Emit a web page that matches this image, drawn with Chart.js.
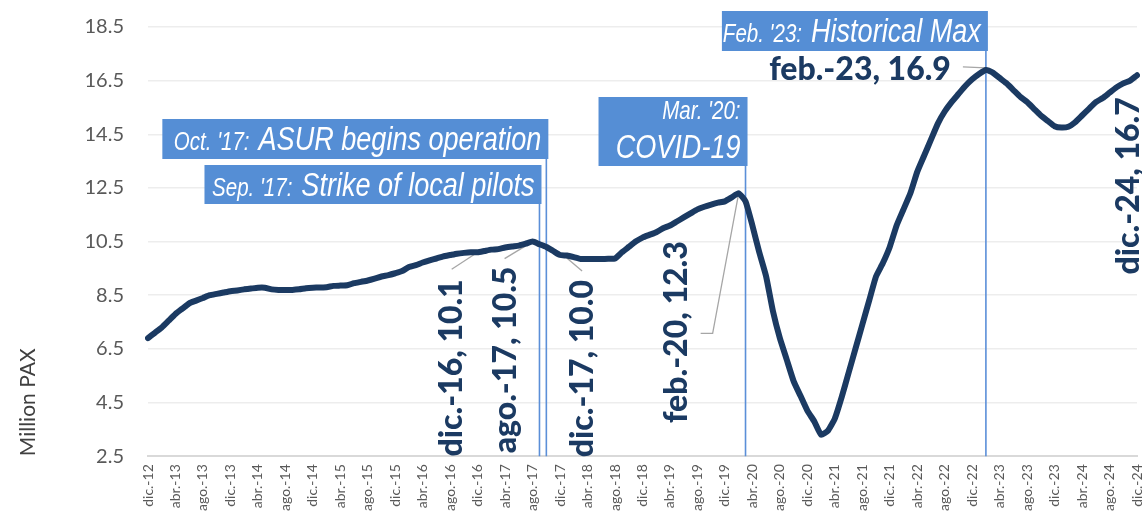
<!DOCTYPE html>
<html>
<head>
<meta charset="utf-8">
<script src="https://cdn.jsdelivr.net/npm/chart.js@4.4.0/dist/chart.umd.min.js"></script>
<style>
  html, body { margin: 0; padding: 0; background: #fff; }
  #wrap { width: 1142px; height: 520px; }
</style>
</head>
<body>
<div id="wrap"><canvas id="PaxChart"></canvas></div>
<script>
// month names used for the category labels (dic.-12 ... dic.-24)
var monthNames = ['ene.', 'feb.', 'mar.', 'abr.', 'may.', 'jun.', 'jul.', 'ago.', 'sep.', 'oct.', 'nov.', 'dic.'];
var years = ['13', '14', '15', '16', '17', '18', '19', '20', '21', '22', '23', '24'];

var months = ['dic.-12'];
years.forEach(function (y) {
    monthNames.forEach(function (m) { months.push(m + '-' + y); });
});

// passengers, million (12-month rolling)
var paxMillions = [
    6.9,
    7.1, 7.3, 7.55, 7.8, 8.0, 8.2, 8.3, 8.4, 8.5, 8.55, 8.6, 8.65,          // 2013
    8.68, 8.72, 8.75, 8.78, 8.78, 8.72, 8.7, 8.7, 8.7, 8.72, 8.76, 8.78,    // 2014
    8.79, 8.8, 8.85, 8.86, 8.87, 8.95, 9.0, 9.05, 9.12, 9.2, 9.25, 9.32,    // 2015
    9.4, 9.55, 9.62, 9.72, 9.8, 9.87, 9.95, 10.0, 10.05, 10.08, 10.1, 10.1, // 2016
    10.15, 10.2, 10.22, 10.28, 10.32, 10.35, 10.42, 10.5, 10.4, 10.3, 10.15, 10.0, // 2017
    9.98, 9.92, 9.85, 9.85, 9.85, 9.85, 9.86, 9.87, 10.1, 10.3, 10.5, 10.65, // 2018
    10.75, 10.85, 11.0, 11.1, 11.25, 11.4, 11.55, 11.7, 11.8, 11.88, 11.95, 12.0, // 2019
    12.15, 12.3, 12.0, 11.1, 10.1, 9.2, 7.9, 6.9, 6.1, 5.3, 4.75, 4.2,      // 2020
    3.8, 3.3, 3.45, 3.9, 4.7, 5.6, 6.5, 7.4, 8.3, 9.2, 9.7, 10.3,           // 2021
    11.1, 11.7, 12.3, 13.1, 13.7, 14.3, 14.9, 15.35, 15.7, 16.0, 16.3, 16.55, // 2022
    16.75, 16.9, 16.8, 16.6, 16.4, 16.15, 15.9, 15.7, 15.45, 15.2, 15.0, 14.8, // 2023
    14.75, 14.78, 14.95, 15.2, 15.45, 15.7, 15.85, 16.05, 16.25, 16.4, 16.5, 16.7  // 2024
];

var yTicks = [2.5, 4.5, 6.5, 8.5, 10.5, 12.5, 14.5, 16.5, 18.5];

// event markers: month, small prefix, big text
var eventMonths = ['oct.-17', 'sep.-17', 'mar.-20', 'feb.-23'];
var eventPrefix = ["Oct. '17:", "Sep. '17:", "Mar. '20:", "Feb. '23:"];
var eventText = ['ASUR begins operation', 'Strike of local pilots', 'COVID-19', 'Historical Max'];

// labelled points
var labelMonths = ['dic.-16', 'ago.-17', 'dic.-17', 'feb.-20', 'feb.-23', 'dic.-24'];

var navy = '#1b3a62';
var boxBlue = '#558ed5';
var bigFont = 'italic 33px "Liberation Sans", Arial, sans-serif';
var smallFont = 'italic 25px "Liberation Sans", Arial, sans-serif';
var narrow = 0.82; // squeeze to look like a narrow face
var labelFont = '900 32px Lato, "Open Sans", sans-serif';

// box layout for each event (pixels), same order as eventMonths
var boxLayout = [
    { width: 386, top: 119, height: 40, twoLines: false },
    { width: 337, top: 165, height: 39, twoLines: false },
    { width: 149, top: 97, height: 69, twoLines: true },
    { width: 266, top: 11, height: 40, twoLines: false }
];

// label layout relative to its point (pixels), same order as labelMonths
var labelLayout = [
    { rot: true, dx: -26, dy: 27, leader: [[-26, 17], [0, 0]] },
    { rot: true, dx: -27, dy: 25, leader: [[-28, 17], [0, 0]] },
    { rot: true, dx: 23, dy: 25, leader: [[22, 16], [2, -1]] },
    { rot: true, dx: -62, dy: 48, leader: [[-38, 140], [-26, 140], [0, 0]] },
    { rot: false, dx: -35, dy: 0, leader: [[-23, -3], [0, -2]] },
    { rot: true, dx: -8, dy: 22 }
];

function narrowText(ctx, txt, xRight, y) {
    ctx.save();
    ctx.translate(xRight, y);
    ctx.scale(narrow, 1);
    ctx.textAlign = 'right';
    ctx.fillText(txt, 0, 0);
    ctx.restore();
    return ctx.measureText(txt).width * narrow;
}

var notesPlugin = {
    id: 'paxNotes',
    beforeDatasetsDraw: function (chart) {
        var ctx = chart.ctx, xs = chart.scales.x, ys = chart.scales.y, area = chart.chartArea;
        ctx.save();

        // leader lines (under the line)
        ctx.strokeStyle = '#a6a6a6';
        ctx.lineWidth = 1.3;
        labelMonths.forEach(function (m, i) {
            var lay = labelLayout[i];
            if (!lay.leader) return;
            var idx = months.indexOf(m);
            var px = xs.getPixelForValue(idx), py = ys.getPixelForValue(paxMillions[idx]);
            ctx.beginPath();
            lay.leader.forEach(function (p, k) {
                if (k === 0) ctx.moveTo(px + p[0], py + p[1]);
                else ctx.lineTo(px + p[0], py + p[1]);
            });
            ctx.stroke();
        });

        // vertical event lines
        ctx.strokeStyle = '#5b8fd8';
        ctx.lineWidth = 1.6;
        eventMonths.forEach(function (m, i) {
            var x = xs.getPixelForValue(months.indexOf(m));
            ctx.beginPath();
            ctx.moveTo(x, boxLayout[i].top + 7);
            ctx.lineTo(x, area.bottom);
            ctx.stroke();
        });
        ctx.restore();
    },
    afterDatasetsDraw: function (chart) {
        var ctx = chart.ctx, xs = chart.scales.x, ys = chart.scales.y;
        ctx.save();

        // event boxes
        eventMonths.forEach(function (m, i) {
            var b = boxLayout[i];
            var right = xs.getPixelForValue(months.indexOf(m)) + 2;
            ctx.fillStyle = boxBlue;
            ctx.fillRect(right - b.width, b.top, b.width, b.height);

            ctx.fillStyle = '#ffffff';
            ctx.textBaseline = 'alphabetic';
            var tx = right - 7;
            if (b.twoLines) {
                ctx.font = smallFont;
                narrowText(ctx, eventPrefix[i], tx, b.top + 22);
                ctx.font = bigFont;
                narrowText(ctx, eventText[i], tx, b.top + 61);
            } else {
                ctx.font = bigFont;
                var w = narrowText(ctx, eventText[i], tx, b.top + 31);
                ctx.font = smallFont;
                narrowText(ctx, eventPrefix[i], tx - w - 9, b.top + 31);
            }
        });

        // data labels
        ctx.fillStyle = navy;
        ctx.font = labelFont;
        labelMonths.forEach(function (m, i) {
            var lay = labelLayout[i];
            var idx = months.indexOf(m);
            var px = xs.getPixelForValue(idx), py = ys.getPixelForValue(paxMillions[idx]);
            var txt = m + ', ' + paxMillions[idx].toFixed(1);
            ctx.save();
            ctx.translate(px + lay.dx, py + lay.dy);
            if (lay.rot) ctx.rotate(-Math.PI / 2);
            ctx.textAlign = 'right';
            ctx.textBaseline = 'middle';
            ctx.fillText(txt, 0, 0);
            ctx.restore();
        });
        ctx.restore();
    }
};

var ctx = document.getElementById('PaxChart');

var myChart = new Chart(ctx, {
    type: 'line',
    data: {
        labels: months,
        datasets: [{
            data: paxMillions,
            borderColor: navy,
            borderWidth: 6,
            pointRadius: 0,
            tension: 0.15,
            borderCapStyle: 'round',
            borderJoinStyle: 'round'
        }]
    },
    options: {
        responsive: true,
        maintainAspectRatio: false,
        animation: false,
        layout: { padding: { top: 27, right: 0, bottom: 1, left: 0 } },
        plugins: {
            legend: { display: false },
            tooltip: { enabled: false }
        },
        scales: {
            x: {
                offset: false,
                afterFit: function (axis) { axis.paddingLeft = 0; axis.paddingRight = 5; },
                grid: { display: false, drawTicks: false },
                border: { color: '#d9d9d9', width: 2 },
                ticks: {
                    autoSkip: false,
                    maxRotation: 90,
                    minRotation: 90,
                    padding: 8,
                    color: '#595959',
                    font: { family: 'Lato', size: 14 },
                    callback: function (v, i) {
                        return i % 4 === 0 ? months[i] : '';
                    }
                }
            },
            y: {
                min: yTicks[0],
                max: yTicks[yTicks.length - 1],
                afterBuildTicks: function (axis) {
                    axis.ticks = yTicks.map(function (v) { return { value: v }; });
                },
                afterFit: function (axis) {
                    axis.width = 148;
                    axis.paddingTop = 0;
                    axis.paddingBottom = 0;
                },
                grid: { color: '#ededed', lineWidth: 1.5, drawTicks: false },
                border: { display: false },
                ticks: {
                    padding: 24,
                    color: '#595959',
                    font: { family: 'Lato', size: 20 },
                    callback: function (v) { return v.toFixed(1); }
                },
                title: {
                    display: true,
                    text: 'Million PAX',
                    align: 'start',
                    color: '#404040',
                    font: { family: 'Lato', size: 21 },
                    padding: { top: 16, bottom: 0 }
                }
            }
        }
    },
    plugins: [notesPlugin]
});
</script>
</body>
</html>
